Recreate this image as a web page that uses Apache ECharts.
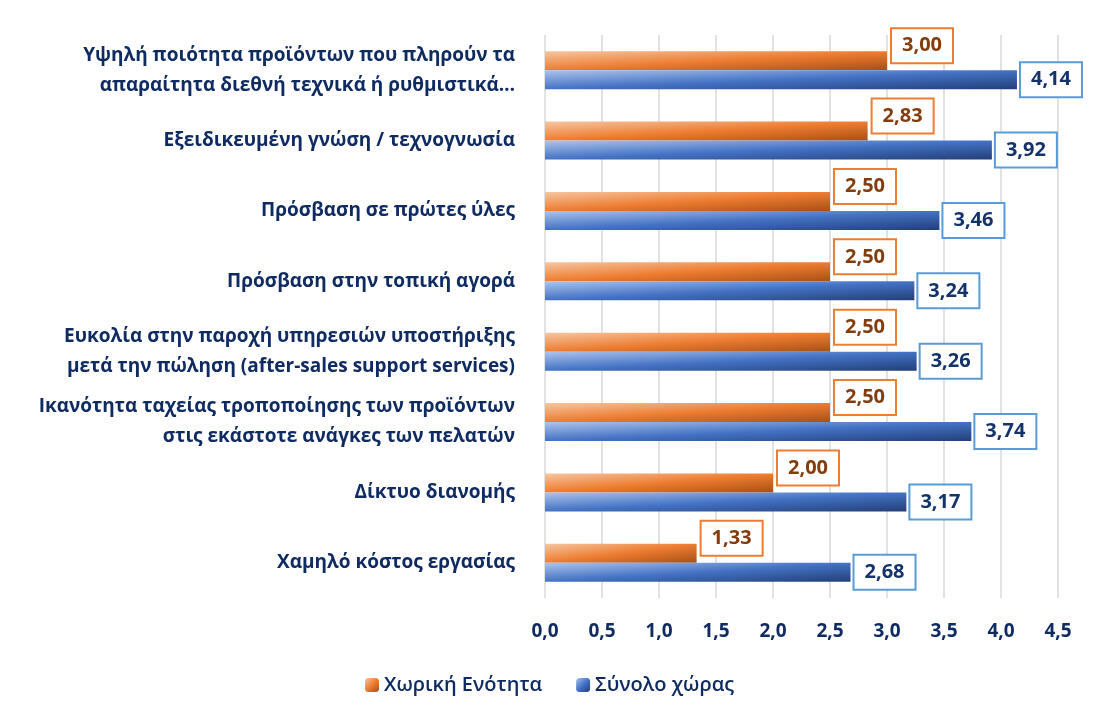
<!DOCTYPE html>
<html>
<head>
<meta charset="utf-8">
<script src="https://cdn.jsdelivr.net/npm/echarts@6/dist/echarts.min.js"></script>
<style>
  html, body { margin: 0; padding: 0; background: #fff; }
  #chart { width: 1099px; height: 718px; }
</style>
</head>
<body>
<div id="chart"></div>
<script>
  const categories = [
    'Υψηλή ποιότητα προϊόντων που πληρούν τα\nαπαραίτητα διεθνή τεχνικά ή ρυθμιστικά…',
    'Εξειδικευμένη γνώση / τεχνογνωσία',
    'Πρόσβαση σε πρώτες ύλες',
    'Πρόσβαση στην τοπική αγορά',
    'Ευκολία στην παροχή υπηρεσιών υποστήριξης\nμετά την πώληση (after-sales support services)',
    'Ικανότητα ταχείας τροποποίησης των προϊόντων\nστις εκάστοτε ανάγκες των πελατών',
    'Δίκτυο διανομής',
    'Χαμηλό κόστος εργασίας'
  ]
  const regionValues = [3.00, 2.83, 2.50, 2.50, 2.50, 2.50, 2.00, 1.33]
  const countryValues = [4.14, 3.92, 3.46, 3.24, 3.26, 3.74, 3.17, 2.68]
  const seriesNames = ['Χωρική Ενότητα', 'Σύνολο χώρας']

  const navy = '#0f2b62'
  const font = 'Open Sans'
  const gridLeft = 545
  const gridRight = 41
  const axisMax = 4.5
  const barH = 19

  // gradient corner to corner in the bar's own box (light top-left, dark bottom-right)
  function grad(value, stops) {
    const w = Math.max(1, value / axisMax * (1099 - gridLeft - gridRight))
    const d = barH * barH + w * w
    return new echarts.graphic.LinearGradient(0, 0, 2 * barH * barH / d, 2 * w * w / d, [
      { offset: 0, color: stops[0] },
      { offset: 0.5, color: stops[1] },
      { offset: 1, color: stops[2] }
    ])
  }
  function iconGrad(stops) {
    return new echarts.graphic.LinearGradient(0, 0, 1, 1, [
      { offset: 0, color: stops[0] },
      { offset: 0.5, color: stops[1] },
      { offset: 1, color: stops[2] }
    ])
  }
  const orangeStops = ['#f7c6a2', '#ed7d31', '#a84f16']
  const blueStops = ['#aec4ec', '#4472c4', '#233f78']

  const fmt = v => v.toFixed(2).replace('.', ',')

  const chart = echarts.init(document.getElementById('chart'))
  chart.setOption({
    animation: false,
    textStyle: { fontFamily: font },
    legend: {
      bottom: 18,
      left: 'center',
      itemWidth: 14,
      itemHeight: 14,
      itemGap: 34,
      textStyle: { color: navy, fontSize: 20, fontWeight: 600, fontFamily: font },
      data: [
        { name: seriesNames[0], itemStyle: { color: iconGrad(orangeStops) } },
        { name: seriesNames[1], itemStyle: { color: iconGrad(blueStops) } }
      ]
    },
    grid: { left: gridLeft, right: gridRight, top: 35, bottom: 120 },
    xAxis: {
      type: 'value',
      min: 0,
      max: axisMax,
      interval: 0.5,
      axisLine: { show: false },
      axisTick: { show: false },
      splitLine: { lineStyle: { color: '#d9d9d9', width: 1.5 } },
      axisLabel: {
        color: navy,
        fontSize: 19,
        fontWeight: 'bold',
        margin: 24,
        formatter: v => v.toFixed(1).replace('.', ',')
      }
    },
    yAxis: {
      type: 'category',
      inverse: true,
      data: categories,
      axisLine: { show: false },
      axisTick: { show: false },
      axisLabel: {
        color: navy,
        fontSize: 19,
        fontWeight: 'bold',
        margin: 30,
        lineHeight: 30,
        align: 'right'
      }
    },
    series: [
      {
        name: seriesNames[0],
        type: 'bar',
        data: regionValues.map(v => ({ value: v, itemStyle: { color: grad(v, orangeStops) } })),
        barWidth: barH,
        barGap: '0%',
        barCategoryGap: '46%',
        itemStyle: { color: orangeStops[1] },
        label: {
          show: true,
          position: 'right',
          distance: 5,
          offset: [0, -15],
          formatter: p => fmt(p.value),
          color: '#843c0c',
          fontSize: 20,
          fontWeight: 'bold',
          backgroundColor: '#fff',
          borderColor: '#ed7d31',
          borderWidth: 2,
          padding: [7, 10, 6, 10]
        }
      },
      {
        name: seriesNames[1],
        type: 'bar',
        data: countryValues.map(v => ({ value: v, itemStyle: { color: grad(v, blueStops) } })),
        barWidth: barH,
        barGap: '0%',
        itemStyle: { color: blueStops[1] },
        label: {
          show: true,
          position: 'right',
          distance: 4,
          formatter: p => fmt(p.value),
          color: '#14336b',
          fontSize: 20,
          fontWeight: 'bold',
          backgroundColor: '#fff',
          borderColor: '#5b9bd5',
          borderWidth: 2,
          padding: [7, 10, 6, 10]
        }
      }
    ]
  })
</script>
</body>
</html>
